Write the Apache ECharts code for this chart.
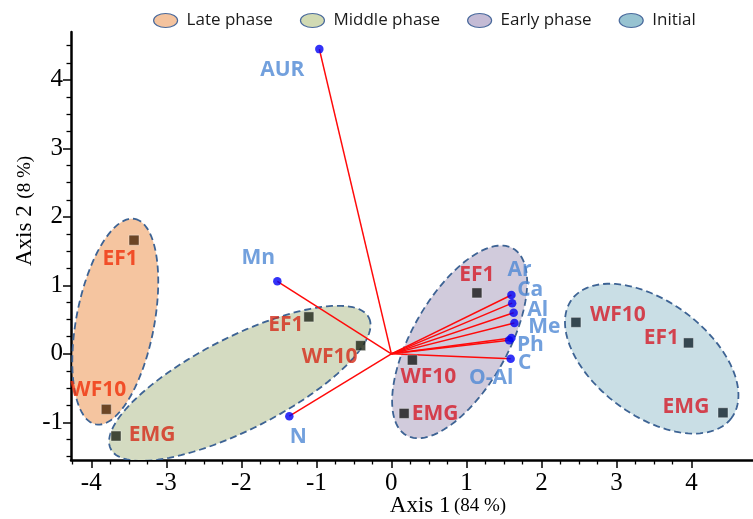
<!DOCTYPE html>
<html><head><meta charset="utf-8">
<script src="https://cdn.jsdelivr.net/npm/echarts@6/dist/echarts.min.js"></script>
<style>html,body{margin:0;padding:0;background:#fff}#c{width:753px;height:519px}</style>
</head><body><div id="c"></div>
<script>
// ---- data ----
const phases = ['Late phase', 'Middle phase', 'Early phase', 'Initial'];

const sampleNames = ['EF1', 'WF10', 'EMG', 'EF1', 'WF10', 'EF1', 'WF10', 'EMG', 'WF10', 'EF1', 'EMG'];
const samplePhase = [0, 0, 1, 1, 1, 2, 2, 2, 3, 3, 3];
const sampleX = [-3.43, -3.80, -3.67, -1.10, -0.41, 1.14, 0.28, 0.17, 2.46, 3.96, 4.42];
const sampleY = [1.66, -0.81, -1.20, 0.54, 0.12, 0.89, -0.09, -0.87, 0.46, 0.16, -0.86];

const variableNames = ['AUR', 'Mn', 'N', 'Ar', 'Ca', 'Al', 'Me', 'Ph', 'O-Al', 'C'];
const variableX = [-0.96, -1.52, -1.36, 1.60, 1.61, 1.63, 1.64, 1.60, 1.57, 1.59];
const variableY = [4.45, 1.06, -0.91, 0.86, 0.74, 0.60, 0.45, 0.23, 0.20, -0.07];

// ellipse geometry per phase (data units): centre, major half-axis vector, minor half-axis vector
const ellipseCX = [-3.68, -2.02, 0.91, 3.47];
const ellipseCY = [0.47, -0.43, 0.175, -0.07];
const ellipseMajorX = [0.259, 1.72, 0.711, 1.063];
const ellipseMajorY = [1.50, 0.96, 1.364, -0.867];
const ellipseMinorX = [0.511, 0.28, 0.552, -0.455];
const ellipseMinorY = [-0.105, -0.60, -0.345, -0.667];

const xTicks = [-4, -3, -2, -1, 0, 1, 2, 3, 4];
const yTicks = [-1, 0, 1, 2, 3, 4];

// ---- styling ----
const ellipseFill = ['#f5c5a0', '#d4dbc1', '#d1cbdc', '#c9dee5'];
const legendFill = ['#f4c39e', '#d1dab3', '#c4bbd5', '#97c3d1'];
const sampleLabelColor = ['#f0300a', '#d42a18', '#d41a28', '#d41a28'];
const sampleSquareColor = ['#4b2608', '#1d2416', '#151515', '#10202a'];
const sampleLabelOffset = [[-14, 19], [-8, -19], [36, -1], [-23, 8], [-31, 11], [0, -18], [16, 17], [31, 1], [42, -7], [-27, -5], [-37, -6]];
const variableLabelOffset = [[-37, 21], [-19, -23], [9, 21], [8, -25], [18, -13], [24, -3], [30, 4], [19, 7], [-18, 38], [14, 4]];

function minorOf(majors, lo, hi) {
  const out = [];
  for (let i = -1; i < majors.length; i++) {
    const base = i < 0 ? majors[0] - 1 : majors[i];
    for (const f of [0.25, 0.5, 0.75]) {
      const v = base + f;
      if (v > lo && v < hi) out.push(v);
    }
  }
  return out;
}
const X_MIN = -4.27, X_MAX = 4.82, Y_MIN = -1.55, Y_MAX = 4.7;
const xMinor = minorOf(xTicks, X_MIN, 4.01);
const yMinor = minorOf(yTicks, Y_MIN, Y_MAX);

const serif = 'Liberation Serif';
const sans = 'Open Sans';

function makeAxis(isX, majors, minors, min, max) {
  const main = {
    type: 'value', min: min, max: max,
    position: isX ? 'bottom' : 'left',
    axisLine: { show: true, onZero: false, lineStyle: { color: '#000', width: 2.5 } },
    axisTick: { show: true, customValues: majors, length: 8, lineStyle: { color: '#000', width: 1.5 } },
    axisLabel: { show: true, customValues: majors, margin: isX ? 11 : 8, fontFamily: serif, fontSize: 25, color: '#000' },
    splitLine: { show: false }
  };
  const minor = {
    type: 'value', min: min, max: max,
    position: isX ? 'bottom' : 'left',
    axisLine: { show: false, onZero: false },
    axisTick: { show: true, customValues: minors, length: 4.5, lineStyle: { color: '#000', width: 1.3 } },
    axisLabel: { show: false },
    splitLine: { show: false }
  };
  return [main, minor];
}

const ellipseSeries = phases.map((ph, i) => ({
  name: ph,
  type: 'custom',
  xAxisIndex: 0, yAxisIndex: 0,
  z: 1,
  clip: true,
  silent: true,
  itemStyle: { color: legendFill[i] },
  data: [[ellipseCX[i], ellipseCY[i], ellipseMajorX[i], ellipseMajorY[i], ellipseMinorX[i], ellipseMinorY[i]]],
  encode: { x: 0, y: 1 },
  renderItem: function (params, api) {
    const cx = api.value(0), cy = api.value(1);
    const ax = api.value(2), ay = api.value(3), bx = api.value(4), by = api.value(5);
    const pts = [];
    for (let k = 0; k < 120; k++) {
      const t = k / 120 * Math.PI * 2;
      pts.push(api.coord([cx + ax * Math.cos(t) + bx * Math.sin(t), cy + ay * Math.cos(t) + by * Math.sin(t)]));
    }
    return {
      type: 'polygon',
      shape: { points: pts },
      style: { fill: ellipseFill[i], stroke: '#3d6394', lineWidth: 1.8, lineDash: [7, 4] }
    };
  }
}));

const vectorLines = {
  type: 'custom', name: 'vectors', z: 2, silent: true,
  data: variableX.map((x, i) => [x, variableY[i]]),
  encode: { x: 0, y: 1 },
  renderItem: function (params, api) {
    const o = api.coord([0, 0]);
    const p = api.coord([api.value(0), api.value(1)]);
    return { type: 'line', shape: { x1: o[0], y1: o[1], x2: p[0], y2: p[1] }, style: { stroke: '#ff0a0a', lineWidth: 1.5 } };
  }
};

const variableDots = {
  type: 'scatter', name: 'variables', z: 3, silent: true,
  symbol: 'circle', symbolSize: 8.5,
  itemStyle: { color: '#0000f5' },
  data: variableNames.map((n, i) => ({
    name: n, value: [variableX[i], variableY[i]],
    label: { offset: variableLabelOffset[i] }
  })),
  label: {
    show: true, position: 'inside', formatter: '{b}',
    fontFamily: sans, fontWeight: 'bold', fontSize: 21, color: '#4f88d4'
  }
};

const sampleSquares = {
  type: 'scatter', name: 'samples', z: 4, silent: true,
  symbol: 'rect', symbolSize: 10,
  data: sampleNames.map((n, i) => ({
    name: n, value: [sampleX[i], sampleY[i]],
    itemStyle: { color: sampleSquareColor[samplePhase[i]], borderColor: 'rgba(255,255,255,0.6)', borderWidth: 0.8 },
    label: { offset: sampleLabelOffset[i], color: sampleLabelColor[samplePhase[i]] }
  })),
  label: {
    show: true, position: 'inside', formatter: '{b}',
    fontFamily: sans, fontWeight: 'bold', fontSize: 21
  }
};

const ellipseIcon = 'path://M0,7 A12,7 0 1,1 24,7 A12,7 0 1,1 0,7 Z';

const option = {
  animation: false,
  backgroundColor: '#fff',
  grid: { left: 71, right: 0, top: 32, bottom: 59, containLabel: false },
  xAxis: makeAxis(true, xTicks, xMinor, X_MIN, X_MAX),
  yAxis: makeAxis(false, yTicks, yMinor, Y_MIN, Y_MAX),
  legend: {
    top: 7, left: 148, itemWidth: 24, itemHeight: 14, itemGap: 27,
    selectedMode: false,
    textStyle: { fontFamily: sans, fontSize: 17, color: '#1a1a1a', padding: [0, 0, 0, 4] },
    data: phases.map((p, i) => ({
      name: p, icon: ellipseIcon,
      itemStyle: { color: legendFill[i], borderColor: '#4a6a9c', borderWidth: 1.2 }
    }))
  },
  graphic: [
    {
      type: 'text', x: 448, y: 506,
      style: {
        text: '{a|Axis 1} {b|(84 %)}', align: 'center', verticalAlign: 'middle',
        rich: { a: { fontFamily: serif, fontSize: 23, fill: '#000' }, b: { fontFamily: serif, fontSize: 19, fill: '#000' } }
      }
    },
    {
      type: 'text', x: 25, y: 211, rotation: Math.PI / 2,
      style: {
        text: '{a|Axis 2}  {b|(8 %)}', align: 'center', verticalAlign: 'middle',
        rich: { a: { fontFamily: serif, fontSize: 23, fill: '#000' }, b: { fontFamily: serif, fontSize: 19, fill: '#000' } }
      }
    }
  ],
  series: ellipseSeries.concat([vectorLines, variableDots, sampleSquares])
};

const chart = echarts.init(document.getElementById('c'), null, { renderer: 'canvas' });
chart.setOption(option);
</script>
</body></html>
